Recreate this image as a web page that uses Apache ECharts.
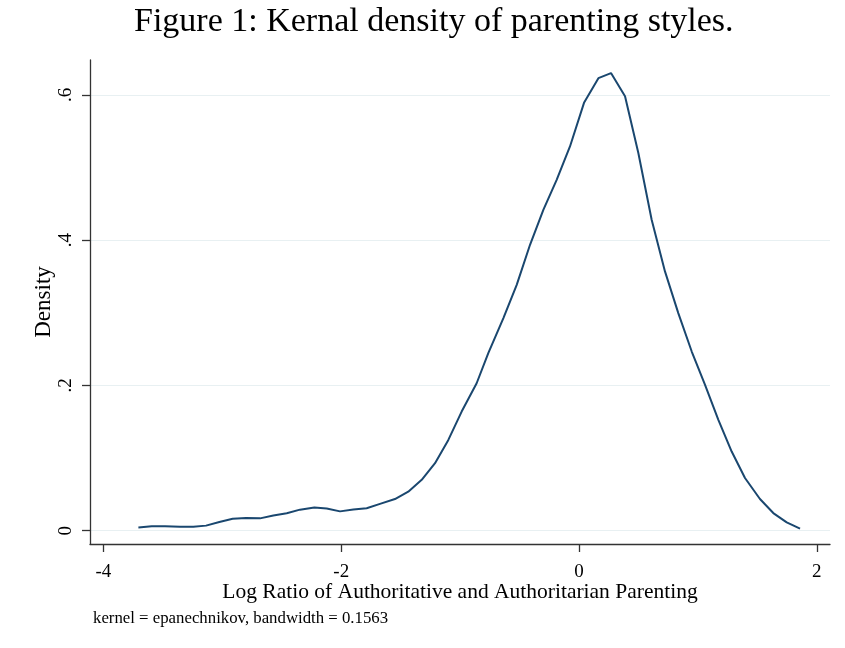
<!DOCTYPE html>
<html>
<head>
<meta charset="utf-8">
<script src="https://cdn.jsdelivr.net/npm/echarts@6/dist/echarts.min.js"></script>
<style>html,body{margin:0;padding:0;background:#fff}#c{width:845px;height:648px}</style>
</head>
<body>
<div id="c"></div>
<script>
const titleText = 'Figure 1: Kernal density of parenting styles.';
const xAxisTitle = 'Log Ratio of Authoritative and Authoritarian Parenting';
const yAxisTitle = 'Density';
const noteText = 'kernel = epanechnikov, bandwidth = 0.1563';
const xTicks = [-4, -2, 0, 2];
const yTicks = [0, 0.2, 0.4, 0.6];
const xValues = [-3.706,-3.594,-3.482,-3.356,-3.244,-3.137,-3.025,-2.913,-2.801,-2.683,-2.571,-2.458,-2.347,-2.226,-2.122,-2.010,-1.898,-1.786,-1.674,-1.548,-1.436,-1.323,-1.211,-1.099,-0.987,-0.861,-0.763,-0.636,-0.524,-0.412,-0.300,-0.188,-0.076,0.042,0.163,0.269,0.387,0.499,0.611,0.723,0.835,0.948,1.060,1.172,1.284,1.396,1.522,1.634,1.747,1.859];
const density = [0.0045,0.006,0.006,0.0055,0.0055,0.007,0.012,0.0165,0.0175,0.017,0.021,0.024,0.029,0.032,0.0307,0.0266,0.0293,0.031,0.037,0.0436,0.0537,0.070,0.093,0.125,0.164,0.203,0.2445,0.2927,0.3385,0.3936,0.4417,0.483,0.529,0.589,0.623,0.630,0.598,0.520,0.428,0.357,0.2996,0.2467,0.2009,0.1527,0.109,0.0725,0.0436,0.0243,0.0114,0.0028];

const serif = '"Liberation Serif", "DejaVu Serif", serif';
const chart = echarts.init(document.getElementById('c'), null, {renderer: 'canvas'});
chart.setOption({
  backgroundColor: '#ffffff',
  animation: false,
  title: [
    {text: titleText, left: 134, top: 5, padding: 0,
     textStyle: {fontFamily: serif, fontWeight: 'normal', fontSize: 34, color: '#000'}},
    {text: noteText, left: 93, top: 610, padding: 0,
     textStyle: {fontFamily: serif, fontWeight: 'normal', fontSize: 16.8, color: '#000'}}
  ],
  grid: {left: 90, right: 15, top: 60, bottom: 104, containLabel: false},
  xAxis: {
    type: 'value', min: -4.113, max: 2.111,
    name: xAxisTitle, nameLocation: 'middle', nameGap: 37, nameMoveOverlap: false,
    nameTextStyle: {fontFamily: serif, fontSize: 21.5, color: '#000'},
    axisLine: {show: true, onZero: false, lineStyle: {color: '#333', width: 1.3}},
    axisTick: {show: true, length: 8, customValues: xTicks, lineStyle: {color: '#333', width: 1.3}},
    axisLabel: {customValues: xTicks, fontFamily: serif, fontSize: 19, color: '#000', margin: 19},
    splitLine: {show: false}
  },
  yAxis: {
    type: 'value', min: -0.0183, max: 0.648,
    name: yAxisTitle, nameLocation: 'middle', nameGap: 35, nameRotate: 90, nameMoveOverlap: false,
    nameTextStyle: {fontFamily: serif, fontSize: 23, color: '#000'},
    axisLine: {show: true, onZero: false, lineStyle: {color: '#333', width: 1.3}},
    axisTick: {show: true, length: 8, customValues: yTicks, lineStyle: {color: '#333', width: 1.3}},
    axisLabel: {customValues: yTicks, rotate: 90, fontFamily: serif, fontSize: 19, color: '#000', margin: 14,
      formatter: v => v === 0 ? '0' : String(+v.toFixed(1)).replace(/^0\./, '.')},
    splitLine: {show: true, lineStyle: {color: '#e8f0f2', width: 1.2}}
  },
  series: [{
    type: 'line',
    data: xValues.map((x, i) => [x, density[i]]),
    showSymbol: false, smooth: false,
    lineStyle: {color: '#1a476f', width: 2},
    itemStyle: {color: '#1a476f'}
  }]
});
</script>
</body>
</html>
